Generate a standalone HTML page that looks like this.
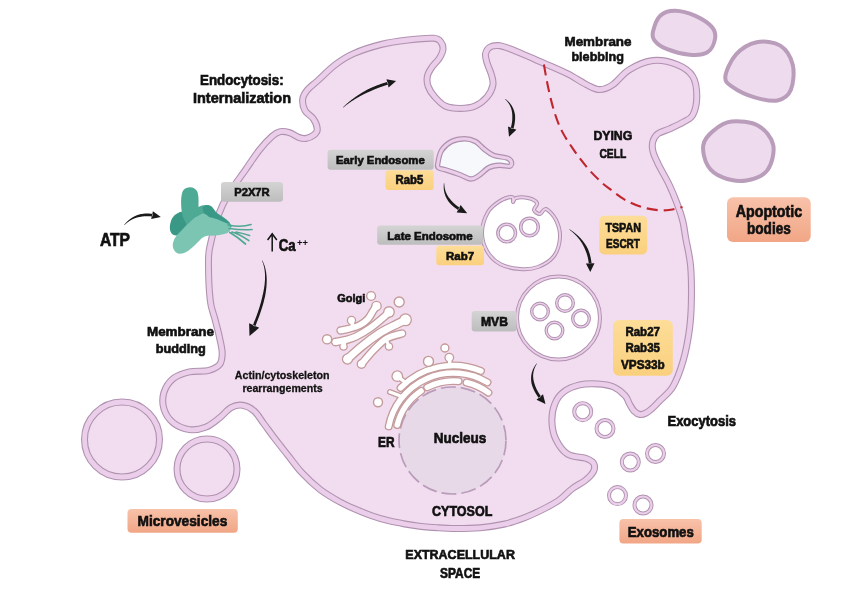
<!DOCTYPE html>
<html><head><meta charset="utf-8"><style>html,body{margin:0;padding:0;background:#fff;width:865px;height:605px;overflow:hidden;font-family:"Liberation Sans",sans-serif}svg{display:block;will-change:transform}</style></head><body>
<svg width="865" height="605" viewBox="0 0 865 605" font-family="Liberation Sans, sans-serif"><defs>
<linearGradient id="gg" x1="0" y1="0" x2="0" y2="1"><stop offset="0" stop-color="#d4d4d4"/><stop offset="1" stop-color="#bdbdbd"/></linearGradient>
<linearGradient id="yg" x1="0" y1="0" x2="0" y2="1"><stop offset="0" stop-color="#fddd98"/><stop offset="1" stop-color="#fad07e"/></linearGradient>
<linearGradient id="og" x1="0" y1="0" x2="0" y2="1"><stop offset="0" stop-color="#f8c2aa"/><stop offset="1" stop-color="#f1a686"/></linearGradient>
</defs><path d="M210.2,300.0 C209.1,290.1 208.4,268.6 208.5,259.0 C208.6,249.4 209.6,248.5 210.8,242.7 C212.0,236.9 213.6,230.2 215.5,224.0 C217.4,217.8 219.7,211.4 222.4,205.6 C225.1,199.8 227.8,195.4 231.7,189.4 C235.5,183.4 240.9,176.4 245.5,169.8 C250.1,163.2 254.9,155.6 259.4,150.0 C263.8,144.4 268.7,139.3 272.2,136.2 C275.7,133.1 277.4,132.2 280.3,131.6 C283.2,131.0 286.4,131.7 289.5,132.7 C292.6,133.7 296.1,136.4 298.8,137.4 C301.5,138.4 303.2,138.9 305.7,138.5 C308.2,138.1 311.9,136.5 313.8,135.0 C315.7,133.5 317.4,132.0 317.3,129.3 C317.2,126.6 315.6,122.1 313.5,119.0 C311.4,115.9 306.8,113.8 305.0,110.5 C303.2,107.2 302.3,102.4 302.7,99.0 C303.1,95.6 304.9,93.0 307.3,90.0 C309.7,87.0 312.6,85.2 317.3,81.0 C322.0,76.8 329.4,69.1 335.5,64.5 C341.6,59.9 346.0,56.9 353.6,53.6 C361.2,50.3 371.9,46.8 381.0,44.5 C390.1,42.2 399.3,41.0 408.0,40.0 C416.7,39.0 427.9,37.9 433.4,38.2 C438.9,38.5 439.2,40.0 440.8,41.9 C442.4,43.8 443.2,46.6 443.0,49.3 C442.8,52.0 441.2,55.3 439.3,58.3 C437.4,61.3 433.9,64.2 431.9,67.2 C429.9,70.2 428.0,72.9 427.4,76.1 C426.8,79.3 426.9,83.0 428.2,86.5 C429.4,90.0 432.0,93.8 434.9,97.0 C437.8,100.2 441.1,104.1 445.3,106.0 C449.5,107.9 455.2,108.4 460.2,108.4 C465.2,108.4 470.6,107.9 475.1,106.0 C479.6,104.1 484.0,100.5 487.0,97.0 C490.0,93.5 492.2,88.7 492.9,85.0 C493.6,81.3 492.4,78.3 491.4,74.6 C490.4,70.9 488.0,66.2 487.0,62.7 C486.0,59.2 485.0,56.4 485.5,53.8 C486.0,51.2 487.8,48.5 490.0,47.1 C492.2,45.7 495.7,45.4 498.9,45.6 C502.1,45.9 501.8,45.7 509.3,48.6 C516.8,51.5 534.0,59.0 543.8,63.2 C553.5,67.4 560.7,70.3 567.8,73.9 C574.9,77.5 581.1,82.0 586.4,84.6 C591.7,87.2 595.3,89.6 599.7,89.6 C604.1,89.6 608.1,87.9 613.0,84.6 C617.9,81.3 622.4,73.9 629.0,69.9 C635.6,65.9 644.9,61.5 652.9,60.6 C660.9,59.7 670.1,61.9 676.8,64.6 C683.4,67.2 689.5,71.2 692.8,76.5 C696.1,81.8 696.8,90.1 696.8,96.5 C696.8,102.9 695.0,110.8 692.8,115.0 C690.6,119.2 687.5,119.6 683.6,121.9 C679.8,124.2 674.0,126.8 669.7,128.8 C665.4,130.8 660.6,131.7 657.8,133.8 C655.0,136.0 653.6,138.7 652.8,141.7 C652.0,144.7 652.0,147.7 653.0,151.7 C654.0,155.7 656.2,160.0 659.0,165.6 C661.8,171.2 666.5,179.1 669.5,185.4 C672.5,191.7 674.8,197.4 677.0,203.3 C679.2,209.2 681.3,215.3 682.8,221.1 C684.2,226.9 684.4,230.5 685.7,238.0 C687.0,245.5 689.7,255.6 690.6,266.0 C691.5,276.4 691.6,289.6 691.4,300.4 C691.2,311.1 690.7,320.5 689.3,330.5 C687.9,340.5 685.9,351.3 683.2,360.6 C680.5,369.9 677.0,379.7 673.0,386.5 C669.0,393.3 662.5,397.8 659.0,401.5 C655.5,405.2 654.2,406.6 652.0,408.5 C649.8,410.4 648.0,412.0 646.0,413.0 C644.0,414.0 642.0,414.8 640.0,414.5 C638.0,414.2 635.8,412.8 634.0,411.0 C632.2,409.2 631.0,406.5 629.5,404.0 C628.0,401.5 628.0,398.7 625.3,395.8 C622.6,392.9 618.0,388.9 613.4,386.9 C608.8,384.9 603.1,384.2 597.5,383.9 C591.9,383.6 585.3,383.6 579.7,384.9 C574.1,386.2 567.9,388.7 563.8,391.8 C559.7,394.9 556.9,398.7 554.9,403.7 C552.9,408.7 551.7,415.7 551.9,421.6 C552.1,427.6 553.2,433.9 555.9,439.4 C558.5,444.8 562.8,451.1 567.8,454.3 C572.8,457.5 581.3,456.8 585.6,458.3 C589.9,459.8 592.3,461.2 593.6,463.3 C594.9,465.4 594.9,468.4 593.6,471.2 C592.3,474.0 589.1,477.2 585.6,480.1 C582.1,483.0 576.8,485.3 572.5,488.5 C568.2,491.7 564.3,496.3 560.0,499.5 C555.7,502.7 552.3,504.5 546.5,507.5 C540.7,510.5 532.0,514.8 525.0,517.5 C518.0,520.2 512.3,522.3 504.8,524.0 C497.3,525.7 488.3,527.0 480.0,527.8 C471.7,528.5 462.2,528.5 455.0,528.5 C447.8,528.5 442.7,528.1 437.0,527.7 C431.3,527.4 426.4,527.0 421.0,526.4 C415.6,525.8 410.1,525.0 404.7,524.0 C399.3,523.0 393.9,522.0 388.5,520.7 C383.1,519.4 377.8,517.9 372.4,516.0 C367.0,514.1 361.4,511.8 356.0,509.5 C350.6,507.2 346.0,505.3 340.0,502.0 C334.0,498.7 326.4,494.4 320.0,489.5 C313.6,484.6 307.2,478.5 301.8,472.7 C296.4,466.9 291.9,460.2 287.3,454.5 C282.8,448.8 278.4,443.3 274.5,438.2 C270.6,433.1 267.4,428.5 264.0,424.0 C260.6,419.5 257.8,414.1 254.2,411.0 C250.6,407.9 246.5,405.9 242.6,405.3 C238.7,404.7 234.9,405.5 231.0,407.6 C227.1,409.7 223.7,414.7 219.4,418.0 C215.2,421.3 210.5,425.4 205.5,427.3 C200.5,429.2 194.8,430.4 189.4,429.6 C184.0,428.8 177.3,426.2 173.1,422.7 C168.8,419.2 165.4,413.8 163.9,408.8 C162.4,403.8 162.4,397.6 163.9,392.6 C165.4,387.6 168.8,382.2 173.1,378.7 C177.3,375.2 183.6,373.1 189.4,371.8 C195.2,370.5 202.9,371.8 207.9,370.6 C212.9,369.4 217.0,367.7 219.4,364.8 C221.8,361.9 222.2,357.8 222.2,353.2 C222.2,348.6 220.6,342.8 219.4,337.0 C218.2,331.2 216.3,324.7 214.8,318.5 C213.3,312.3 211.2,309.9 210.2,300.0Z" fill="#f1ddef" stroke="#b092b0" stroke-width="7.0" stroke-linejoin="round"/><path d="M210.2,300.0 C209.1,290.1 208.4,268.6 208.5,259.0 C208.6,249.4 209.6,248.5 210.8,242.7 C212.0,236.9 213.6,230.2 215.5,224.0 C217.4,217.8 219.7,211.4 222.4,205.6 C225.1,199.8 227.8,195.4 231.7,189.4 C235.5,183.4 240.9,176.4 245.5,169.8 C250.1,163.2 254.9,155.6 259.4,150.0 C263.8,144.4 268.7,139.3 272.2,136.2 C275.7,133.1 277.4,132.2 280.3,131.6 C283.2,131.0 286.4,131.7 289.5,132.7 C292.6,133.7 296.1,136.4 298.8,137.4 C301.5,138.4 303.2,138.9 305.7,138.5 C308.2,138.1 311.9,136.5 313.8,135.0 C315.7,133.5 317.4,132.0 317.3,129.3 C317.2,126.6 315.6,122.1 313.5,119.0 C311.4,115.9 306.8,113.8 305.0,110.5 C303.2,107.2 302.3,102.4 302.7,99.0 C303.1,95.6 304.9,93.0 307.3,90.0 C309.7,87.0 312.6,85.2 317.3,81.0 C322.0,76.8 329.4,69.1 335.5,64.5 C341.6,59.9 346.0,56.9 353.6,53.6 C361.2,50.3 371.9,46.8 381.0,44.5 C390.1,42.2 399.3,41.0 408.0,40.0 C416.7,39.0 427.9,37.9 433.4,38.2 C438.9,38.5 439.2,40.0 440.8,41.9 C442.4,43.8 443.2,46.6 443.0,49.3 C442.8,52.0 441.2,55.3 439.3,58.3 C437.4,61.3 433.9,64.2 431.9,67.2 C429.9,70.2 428.0,72.9 427.4,76.1 C426.8,79.3 426.9,83.0 428.2,86.5 C429.4,90.0 432.0,93.8 434.9,97.0 C437.8,100.2 441.1,104.1 445.3,106.0 C449.5,107.9 455.2,108.4 460.2,108.4 C465.2,108.4 470.6,107.9 475.1,106.0 C479.6,104.1 484.0,100.5 487.0,97.0 C490.0,93.5 492.2,88.7 492.9,85.0 C493.6,81.3 492.4,78.3 491.4,74.6 C490.4,70.9 488.0,66.2 487.0,62.7 C486.0,59.2 485.0,56.4 485.5,53.8 C486.0,51.2 487.8,48.5 490.0,47.1 C492.2,45.7 495.7,45.4 498.9,45.6 C502.1,45.9 501.8,45.7 509.3,48.6 C516.8,51.5 534.0,59.0 543.8,63.2 C553.5,67.4 560.7,70.3 567.8,73.9 C574.9,77.5 581.1,82.0 586.4,84.6 C591.7,87.2 595.3,89.6 599.7,89.6 C604.1,89.6 608.1,87.9 613.0,84.6 C617.9,81.3 622.4,73.9 629.0,69.9 C635.6,65.9 644.9,61.5 652.9,60.6 C660.9,59.7 670.1,61.9 676.8,64.6 C683.4,67.2 689.5,71.2 692.8,76.5 C696.1,81.8 696.8,90.1 696.8,96.5 C696.8,102.9 695.0,110.8 692.8,115.0 C690.6,119.2 687.5,119.6 683.6,121.9 C679.8,124.2 674.0,126.8 669.7,128.8 C665.4,130.8 660.6,131.7 657.8,133.8 C655.0,136.0 653.6,138.7 652.8,141.7 C652.0,144.7 652.0,147.7 653.0,151.7 C654.0,155.7 656.2,160.0 659.0,165.6 C661.8,171.2 666.5,179.1 669.5,185.4 C672.5,191.7 674.8,197.4 677.0,203.3 C679.2,209.2 681.3,215.3 682.8,221.1 C684.2,226.9 684.4,230.5 685.7,238.0 C687.0,245.5 689.7,255.6 690.6,266.0 C691.5,276.4 691.6,289.6 691.4,300.4 C691.2,311.1 690.7,320.5 689.3,330.5 C687.9,340.5 685.9,351.3 683.2,360.6 C680.5,369.9 677.0,379.7 673.0,386.5 C669.0,393.3 662.5,397.8 659.0,401.5 C655.5,405.2 654.2,406.6 652.0,408.5 C649.8,410.4 648.0,412.0 646.0,413.0 C644.0,414.0 642.0,414.8 640.0,414.5 C638.0,414.2 635.8,412.8 634.0,411.0 C632.2,409.2 631.0,406.5 629.5,404.0 C628.0,401.5 628.0,398.7 625.3,395.8 C622.6,392.9 618.0,388.9 613.4,386.9 C608.8,384.9 603.1,384.2 597.5,383.9 C591.9,383.6 585.3,383.6 579.7,384.9 C574.1,386.2 567.9,388.7 563.8,391.8 C559.7,394.9 556.9,398.7 554.9,403.7 C552.9,408.7 551.7,415.7 551.9,421.6 C552.1,427.6 553.2,433.9 555.9,439.4 C558.5,444.8 562.8,451.1 567.8,454.3 C572.8,457.5 581.3,456.8 585.6,458.3 C589.9,459.8 592.3,461.2 593.6,463.3 C594.9,465.4 594.9,468.4 593.6,471.2 C592.3,474.0 589.1,477.2 585.6,480.1 C582.1,483.0 576.8,485.3 572.5,488.5 C568.2,491.7 564.3,496.3 560.0,499.5 C555.7,502.7 552.3,504.5 546.5,507.5 C540.7,510.5 532.0,514.8 525.0,517.5 C518.0,520.2 512.3,522.3 504.8,524.0 C497.3,525.7 488.3,527.0 480.0,527.8 C471.7,528.5 462.2,528.5 455.0,528.5 C447.8,528.5 442.7,528.1 437.0,527.7 C431.3,527.4 426.4,527.0 421.0,526.4 C415.6,525.8 410.1,525.0 404.7,524.0 C399.3,523.0 393.9,522.0 388.5,520.7 C383.1,519.4 377.8,517.9 372.4,516.0 C367.0,514.1 361.4,511.8 356.0,509.5 C350.6,507.2 346.0,505.3 340.0,502.0 C334.0,498.7 326.4,494.4 320.0,489.5 C313.6,484.6 307.2,478.5 301.8,472.7 C296.4,466.9 291.9,460.2 287.3,454.5 C282.8,448.8 278.4,443.3 274.5,438.2 C270.6,433.1 267.4,428.5 264.0,424.0 C260.6,419.5 257.8,414.1 254.2,411.0 C250.6,407.9 246.5,405.9 242.6,405.3 C238.7,404.7 234.9,405.5 231.0,407.6 C227.1,409.7 223.7,414.7 219.4,418.0 C215.2,421.3 210.5,425.4 205.5,427.3 C200.5,429.2 194.8,430.4 189.4,429.6 C184.0,428.8 177.3,426.2 173.1,422.7 C168.8,419.2 165.4,413.8 163.9,408.8 C162.4,403.8 162.4,397.6 163.9,392.6 C165.4,387.6 168.8,382.2 173.1,378.7 C177.3,375.2 183.6,373.1 189.4,371.8 C195.2,370.5 202.9,371.8 207.9,370.6 C212.9,369.4 217.0,367.7 219.4,364.8 C221.8,361.9 222.2,357.8 222.2,353.2 C222.2,348.6 220.6,342.8 219.4,337.0 C218.2,331.2 216.3,324.7 214.8,318.5 C213.3,312.3 211.2,309.9 210.2,300.0Z" fill="none" stroke="#ebcfea" stroke-width="4.8" stroke-linejoin="round"/><path d="M84.5,439.5 a37.5,37.5 0 1,0 75.0,0 a37.5,37.5 0 1,0 -75.0,0Z" fill="#f1ddef" stroke="#b092b0" stroke-width="7.0" stroke-linejoin="round"/><path d="M84.5,439.5 a37.5,37.5 0 1,0 75.0,0 a37.5,37.5 0 1,0 -75.0,0Z" fill="none" stroke="#ebcfea" stroke-width="4.8" stroke-linejoin="round"/><path d="M177.0,469.0 a30.0,30.0 0 1,0 60.0,0 a30.0,30.0 0 1,0 -60.0,0Z" fill="#f1ddef" stroke="#b092b0" stroke-width="7.0" stroke-linejoin="round"/><path d="M177.0,469.0 a30.0,30.0 0 1,0 60.0,0 a30.0,30.0 0 1,0 -60.0,0Z" fill="none" stroke="#ebcfea" stroke-width="4.8" stroke-linejoin="round"/><path d="M653.0,31.5 C654.0,27.4 656.7,18.9 660.5,15.5 C664.2,12.0 669.4,10.6 675.2,10.7 C681.1,10.8 689.3,13.1 695.4,15.8 C701.6,18.6 708.8,23.3 712.0,27.1 C715.3,31.0 715.8,34.8 715.0,39.0 C714.3,43.2 711.6,49.7 707.4,52.3 C703.2,54.9 696.5,55.3 689.7,54.7 C682.9,54.1 672.3,51.3 666.5,48.9 C660.6,46.6 656.8,43.3 654.5,40.4 C652.3,37.5 652.0,35.7 653.0,31.5Z" fill="#eedcee" stroke="#b99dbb" stroke-width="4"/><path d="M725.3,76.8 C725.8,71.4 730.7,60.5 735.9,54.7 C741.1,48.9 749.2,43.8 756.7,42.3 C764.1,40.8 774.3,41.8 780.3,45.6 C786.4,49.4 791.0,57.6 792.8,65.0 C794.5,72.4 793.3,84.1 790.8,90.0 C788.2,95.9 783.5,99.3 777.4,100.5 C771.2,101.7 761.2,99.3 753.8,97.1 C746.3,94.8 737.5,90.5 732.8,87.1 C728.0,83.7 724.8,82.2 725.3,76.8Z" fill="#eedcee" stroke="#b99dbb" stroke-width="4"/><path d="M703.3,145.1 C704.3,139.2 709.0,134.3 713.8,130.4 C718.5,126.4 724.1,122.3 731.5,121.5 C738.9,120.7 751.2,121.8 758.2,125.7 C765.1,129.6 771.7,137.6 773.2,145.0 C774.7,152.5 771.8,164.4 767.3,170.4 C762.8,176.3 753.8,179.3 746.3,180.5 C738.9,181.7 729.1,179.9 722.7,177.4 C716.3,175.0 711.0,171.2 707.8,165.8 C704.5,160.4 702.3,151.0 703.3,145.1Z" fill="#eedcee" stroke="#b99dbb" stroke-width="4"/><path d="M543.9,64.5 C544.6,68.5 546.7,80.8 548.4,88.5 C550.1,96.2 551.8,103.7 554.0,110.8 C556.2,117.9 558.6,124.6 561.8,130.9 C565.0,137.2 568.9,142.8 573.0,148.8 C577.1,154.8 581.9,161.3 586.4,166.7 C590.9,172.1 596.0,177.2 600.0,181.0 C604.0,184.8 606.2,186.3 610.4,189.4 C614.6,192.5 619.8,196.9 625.0,199.8 C630.2,202.7 636.1,205.3 641.6,207.0 C647.1,208.7 653.4,209.8 658.3,210.2 C663.2,210.6 666.8,210.2 670.8,209.7 C674.8,209.2 680.5,207.4 682.5,207.0" fill="none" stroke="#c0262d" stroke-width="2.1" stroke-dasharray="11,6"/><path d="M437.8,163.5 C438.3,160.6 439.2,154.2 441.5,150.5 C443.8,146.8 447.6,143.5 451.5,141.5 C455.4,139.5 460.7,138.7 464.7,138.7 C468.7,138.7 472.3,139.8 475.5,141.5 C478.7,143.2 481.0,146.7 484.0,149.0 C487.0,151.3 489.6,153.8 493.5,155.3 C497.4,156.8 504.5,157.0 507.5,158.2 C510.5,159.4 511.2,161.0 511.5,162.3 C511.8,163.7 511.5,165.8 509.5,166.3 C507.5,166.8 502.8,165.1 499.4,165.3 C496.0,165.5 492.5,165.8 489.0,167.5 C485.5,169.2 481.6,173.9 478.5,175.8 C475.4,177.7 473.7,179.2 470.5,179.0 C467.3,178.8 463.7,176.0 459.5,174.5 C455.3,173.0 449.0,170.9 445.5,169.8 C442.0,168.7 439.8,168.9 438.5,167.8 C437.2,166.8 437.3,166.4 437.8,163.5Z" fill="#f6f8fb" stroke="#b092b0" stroke-width="5.4" stroke-linejoin="round"/><path d="M437.8,163.5 C438.3,160.6 439.2,154.2 441.5,150.5 C443.8,146.8 447.6,143.5 451.5,141.5 C455.4,139.5 460.7,138.7 464.7,138.7 C468.7,138.7 472.3,139.8 475.5,141.5 C478.7,143.2 481.0,146.7 484.0,149.0 C487.0,151.3 489.6,153.8 493.5,155.3 C497.4,156.8 504.5,157.0 507.5,158.2 C510.5,159.4 511.2,161.0 511.5,162.3 C511.8,163.7 511.5,165.8 509.5,166.3 C507.5,166.8 502.8,165.1 499.4,165.3 C496.0,165.5 492.5,165.8 489.0,167.5 C485.5,169.2 481.6,173.9 478.5,175.8 C475.4,177.7 473.7,179.2 470.5,179.0 C467.3,178.8 463.7,176.0 459.5,174.5 C455.3,173.0 449.0,170.9 445.5,169.8 C442.0,168.7 439.8,168.9 438.5,167.8 C437.2,166.8 437.3,166.4 437.8,163.5Z" fill="none" stroke="#ebcfea" stroke-width="3.0" stroke-linejoin="round"/><path d="M482.0,232.0 C482.2,225.5 485.0,217.2 488.0,212.0 C491.0,206.8 496.0,203.5 500.0,201.0 C504.0,198.5 509.8,196.8 512.0,197.0 C514.2,197.2 512.3,201.8 513.0,202.0 C513.7,202.2 513.5,198.7 516.0,198.0 C518.5,197.3 524.5,197.2 528.0,198.0 C531.5,198.8 536.0,201.0 537.0,203.0 C538.0,205.0 533.5,208.2 534.0,210.0 C534.5,211.8 538.0,214.2 540.0,214.0 C542.0,213.8 543.3,208.0 546.0,209.0 C548.7,210.0 553.7,215.3 556.0,220.0 C558.3,224.7 560.3,231.0 560.0,237.0 C559.7,243.0 557.7,251.0 554.0,256.0 C550.3,261.0 543.7,264.8 538.0,267.0 C532.3,269.2 526.3,269.5 520.0,269.0 C513.7,268.5 505.5,267.0 500.0,264.0 C494.5,261.0 490.0,256.3 487.0,251.0 C484.0,245.7 481.8,238.5 482.0,232.0Z" fill="#ffffff" stroke="#b092b0" stroke-width="4.0" stroke-linejoin="round"/><path d="M482.0,232.0 C482.2,225.5 485.0,217.2 488.0,212.0 C491.0,206.8 496.0,203.5 500.0,201.0 C504.0,198.5 509.8,196.8 512.0,197.0 C514.2,197.2 512.3,201.8 513.0,202.0 C513.7,202.2 513.5,198.7 516.0,198.0 C518.5,197.3 524.5,197.2 528.0,198.0 C531.5,198.8 536.0,201.0 537.0,203.0 C538.0,205.0 533.5,208.2 534.0,210.0 C534.5,211.8 538.0,214.2 540.0,214.0 C542.0,213.8 543.3,208.0 546.0,209.0 C548.7,210.0 553.7,215.3 556.0,220.0 C558.3,224.7 560.3,231.0 560.0,237.0 C559.7,243.0 557.7,251.0 554.0,256.0 C550.3,261.0 543.7,264.8 538.0,267.0 C532.3,269.2 526.3,269.5 520.0,269.0 C513.7,268.5 505.5,267.0 500.0,264.0 C494.5,261.0 490.0,256.3 487.0,251.0 C484.0,245.7 481.8,238.5 482.0,232.0Z" fill="none" stroke="#ebcfea" stroke-width="2.0" stroke-linejoin="round"/><circle cx="506.7" cy="233.0" r="8.8" fill="#fff" stroke="#b092b0" stroke-width="3.6"/><circle cx="506.7" cy="233.0" r="8.8" fill="none" stroke="#ebcfea" stroke-width="1.6"/><circle cx="529.5" cy="227.0" r="8.8" fill="#fff" stroke="#b092b0" stroke-width="3.6"/><circle cx="529.5" cy="227.0" r="8.8" fill="none" stroke="#ebcfea" stroke-width="1.6"/><circle cx="558.5" cy="318" r="41.5" fill="#fff" stroke="#b092b0" stroke-width="4"/><circle cx="558.5" cy="318" r="41.5" fill="none" stroke="#ebcfea" stroke-width="2"/><circle cx="540.0" cy="311.5" r="8.3" fill="#fff" stroke="#b092b0" stroke-width="3.4"/><circle cx="540.0" cy="311.5" r="8.3" fill="none" stroke="#ebcfea" stroke-width="1.4"/><circle cx="565.0" cy="303.0" r="8.3" fill="#fff" stroke="#b092b0" stroke-width="3.4"/><circle cx="565.0" cy="303.0" r="8.3" fill="none" stroke="#ebcfea" stroke-width="1.4"/><circle cx="581.0" cy="318.6" r="8.3" fill="#fff" stroke="#b092b0" stroke-width="3.4"/><circle cx="581.0" cy="318.6" r="8.3" fill="none" stroke="#ebcfea" stroke-width="1.4"/><circle cx="554.5" cy="330.5" r="8.3" fill="#fff" stroke="#b092b0" stroke-width="3.4"/><circle cx="554.5" cy="330.5" r="8.3" fill="none" stroke="#ebcfea" stroke-width="1.4"/><circle cx="582.7" cy="411.7" r="8.5" fill="#fff" stroke="#b092b0" stroke-width="4.0"/><circle cx="582.7" cy="411.7" r="8.5" fill="none" stroke="#ebcfea" stroke-width="2.2"/><circle cx="605.0" cy="428.5" r="8.5" fill="#fff" stroke="#b092b0" stroke-width="4.0"/><circle cx="605.0" cy="428.5" r="8.5" fill="none" stroke="#ebcfea" stroke-width="2.2"/><circle cx="630.3" cy="462.0" r="8.5" fill="#fff" stroke="#b092b0" stroke-width="4.0"/><circle cx="630.3" cy="462.0" r="8.5" fill="none" stroke="#ebcfea" stroke-width="2.2"/><circle cx="655.5" cy="453.5" r="8.5" fill="#fff" stroke="#b092b0" stroke-width="4.0"/><circle cx="655.5" cy="453.5" r="8.5" fill="none" stroke="#ebcfea" stroke-width="2.2"/><circle cx="617.5" cy="495.6" r="8.5" fill="#fff" stroke="#b092b0" stroke-width="4.0"/><circle cx="617.5" cy="495.6" r="8.5" fill="none" stroke="#ebcfea" stroke-width="2.2"/><circle cx="643.0" cy="505.0" r="8.5" fill="#fff" stroke="#b092b0" stroke-width="4.0"/><circle cx="643.0" cy="505.0" r="8.5" fill="none" stroke="#ebcfea" stroke-width="2.2"/><circle cx="452.5" cy="440.5" r="53.5" fill="#e8d9e8" stroke="#b99cb9" stroke-width="1.7" stroke-dasharray="15,5"/><path d="M397.2,425.0 A58.0,58.0 0 0,1 421.1,390.9" fill="none" stroke="#c49a9a" stroke-width="8" stroke-linecap="round"/><path d="M427.2,387.3 A58.0,58.0 0 0,1 458.6,381.2" fill="none" stroke="#c49a9a" stroke-width="8" stroke-linecap="round"/><path d="M466.5,382.5 A58.0,58.0 0 0,1 488.4,392.7" fill="none" stroke="#c49a9a" stroke-width="8" stroke-linecap="round"/><path d="M388.7,426.4 A66.0,66.0 0 0,1 487.5,382.4" fill="none" stroke="#c49a9a" stroke-width="8" stroke-linecap="round"/><path d="M400.6,387.9 A73.5,73.5 0 0,1 481.0,370.9" fill="none" stroke="#c49a9a" stroke-width="8" stroke-linecap="round"/><circle cx="397.3" cy="376.2" r="5.9" fill="#c49a9a"/><circle cx="449.3" cy="357.6" r="4.9" fill="#c49a9a"/><path d="M397.3,376.2 L406.0,383.0" stroke="#c49a9a" stroke-width="6" stroke-linecap="round"/><path d="M449.3,357.6 L450.0,365.0" stroke="#c49a9a" stroke-width="6" stroke-linecap="round"/><path d="M403.0,397.0 L390.0,392.0" stroke="#c49a9a" stroke-width="6" stroke-linecap="round"/><path d="M397.2,425.0 A58.0,58.0 0 0,1 421.1,390.9" fill="none" stroke="#fff" stroke-width="5.4" stroke-linecap="round"/><path d="M427.2,387.3 A58.0,58.0 0 0,1 458.6,381.2" fill="none" stroke="#fff" stroke-width="5.4" stroke-linecap="round"/><path d="M466.5,382.5 A58.0,58.0 0 0,1 488.4,392.7" fill="none" stroke="#fff" stroke-width="5.4" stroke-linecap="round"/><path d="M388.7,426.4 A66.0,66.0 0 0,1 487.5,382.4" fill="none" stroke="#fff" stroke-width="5.4" stroke-linecap="round"/><path d="M400.6,387.9 A73.5,73.5 0 0,1 481.0,370.9" fill="none" stroke="#fff" stroke-width="5.4" stroke-linecap="round"/><circle cx="397.3" cy="376.2" r="4.6" fill="#fff"/><circle cx="449.3" cy="357.6" r="3.6" fill="#fff"/><path d="M397.3,376.2 L406.0,383.0" stroke="#fff" stroke-width="3.4" stroke-linecap="round"/><path d="M449.3,357.6 L450.0,365.0" stroke="#fff" stroke-width="3.4" stroke-linecap="round"/><path d="M403.0,397.0 L390.0,392.0" stroke="#fff" stroke-width="3.4" stroke-linecap="round"/><circle cx="444.9" cy="348.0" r="4.0" fill="#fff" stroke="#c49a9a" stroke-width="1.4"/><circle cx="428.5" cy="361.4" r="5.0" fill="#fff" stroke="#c49a9a" stroke-width="1.4"/><circle cx="378.0" cy="402.2" r="4.5" fill="#fff" stroke="#c49a9a" stroke-width="1.4"/><path d="M340.5,330.5 C342.1,330.2 346.8,329.4 350.0,328.5 C353.2,327.6 357.0,326.6 360.0,325.0 C363.0,323.4 365.8,321.3 368.0,319.0 C370.2,316.7 371.6,313.2 373.0,311.0 C374.4,308.8 375.9,306.8 376.5,306.0" fill="none" stroke="#c49a9a" stroke-width="8.4" stroke-linecap="round"/><path d="M335.5,342.0 C337.2,341.7 342.6,340.9 346.0,340.0 C349.4,339.1 351.8,338.6 356.0,336.5 C360.2,334.4 366.3,330.8 371.0,327.5 C375.7,324.2 381.0,319.6 384.0,317.0 C387.0,314.4 388.2,312.8 389.0,312.0" fill="none" stroke="#c49a9a" stroke-width="8.6" stroke-linecap="round"/><path d="M347.5,359.0 C349.9,356.9 356.4,350.7 361.7,346.4 C367.0,342.1 373.6,337.1 379.5,333.3 C385.4,329.5 393.1,326.1 397.4,323.8 C401.7,321.6 404.1,320.5 405.5,319.8" fill="none" stroke="#c49a9a" stroke-width="9.6" stroke-linecap="round"/><path d="M361.5,364.0 C363.5,361.7 369.4,354.2 373.6,350.0 C377.8,345.8 382.0,341.2 386.7,338.5 C391.4,335.8 399.4,334.3 402.0,333.5" fill="none" stroke="#c49a9a" stroke-width="8.6" stroke-linecap="round"/><circle cx="376.5" cy="306.0" r="5.3" fill="#c49a9a"/><circle cx="389.0" cy="312.0" r="5.9" fill="#c49a9a"/><circle cx="405.5" cy="319.8" r="6.5" fill="#c49a9a"/><circle cx="347.5" cy="359.0" r="5.7" fill="#c49a9a"/><circle cx="361.5" cy="364.0" r="4.9" fill="#c49a9a"/><circle cx="351.5" cy="320.5" r="4.7" fill="#c49a9a"/><circle cx="343.5" cy="346.5" r="4.3" fill="#c49a9a"/><circle cx="389.0" cy="346.5" r="4.3" fill="#c49a9a"/><circle cx="335.5" cy="342.0" r="4.3" fill="#c49a9a"/><path d="M351.5,320.5 L353.0,327.0" stroke="#c49a9a" stroke-width="6.2" stroke-linecap="round"/><path d="M343.5,346.5 L345.0,340.5" stroke="#c49a9a" stroke-width="5.8" stroke-linecap="round"/><path d="M389.0,346.5 L386.0,339.0" stroke="#c49a9a" stroke-width="5.8" stroke-linecap="round"/><path d="M340.5,330.5 C342.1,330.2 346.8,329.4 350.0,328.5 C353.2,327.6 357.0,326.6 360.0,325.0 C363.0,323.4 365.8,321.3 368.0,319.0 C370.2,316.7 371.6,313.2 373.0,311.0 C374.4,308.8 375.9,306.8 376.5,306.0" fill="none" stroke="#fff" stroke-width="5.8" stroke-linecap="round"/><path d="M335.5,342.0 C337.2,341.7 342.6,340.9 346.0,340.0 C349.4,339.1 351.8,338.6 356.0,336.5 C360.2,334.4 366.3,330.8 371.0,327.5 C375.7,324.2 381.0,319.6 384.0,317.0 C387.0,314.4 388.2,312.8 389.0,312.0" fill="none" stroke="#fff" stroke-width="6.0" stroke-linecap="round"/><path d="M347.5,359.0 C349.9,356.9 356.4,350.7 361.7,346.4 C367.0,342.1 373.6,337.1 379.5,333.3 C385.4,329.5 393.1,326.1 397.4,323.8 C401.7,321.6 404.1,320.5 405.5,319.8" fill="none" stroke="#fff" stroke-width="7.0" stroke-linecap="round"/><path d="M361.5,364.0 C363.5,361.7 369.4,354.2 373.6,350.0 C377.8,345.8 382.0,341.2 386.7,338.5 C391.4,335.8 399.4,334.3 402.0,333.5" fill="none" stroke="#fff" stroke-width="6.0" stroke-linecap="round"/><circle cx="376.5" cy="306.0" r="4.0" fill="#fff"/><circle cx="389.0" cy="312.0" r="4.6" fill="#fff"/><circle cx="405.5" cy="319.8" r="5.2" fill="#fff"/><circle cx="347.5" cy="359.0" r="4.4" fill="#fff"/><circle cx="361.5" cy="364.0" r="3.6" fill="#fff"/><circle cx="351.5" cy="320.5" r="3.4" fill="#fff"/><circle cx="343.5" cy="346.5" r="3.0" fill="#fff"/><circle cx="389.0" cy="346.5" r="3.0" fill="#fff"/><circle cx="335.5" cy="342.0" r="3.0" fill="#fff"/><path d="M351.5,320.5 L353.0,327.0" stroke="#fff" stroke-width="3.6" stroke-linecap="round"/><path d="M343.5,346.5 L345.0,340.5" stroke="#fff" stroke-width="3.2" stroke-linecap="round"/><path d="M389.0,346.5 L386.0,339.0" stroke="#fff" stroke-width="3.2" stroke-linecap="round"/><circle cx="371.1" cy="296.0" r="4.4" fill="#fff" stroke="#c49a9a" stroke-width="1.4"/><circle cx="399.2" cy="302.0" r="5.0" fill="#fff" stroke="#c49a9a" stroke-width="1.4"/><circle cx="327.1" cy="339.3" r="4.6" fill="#fff" stroke="#c49a9a" stroke-width="1.4"/><path d="M191,214 C185,209 174,212 171,221 C168,230 171,236 177,235.5 C184,235 190,227 193,220 Z" fill="#3a9986"/><path d="M182.5,216 C180.5,206 180.5,194 183.5,190 C187,186 195,186 197.5,192 C199,197 198.5,203 198.5,207 C202,205 206,204 210,206 C213,207 215,211 218,214 C224,217 229,221 232,226 L228,232 L190,232 Z" fill="#4ea995"/><path d="M202.5,208 C205,204 210,204 212.5,207.5 L215,212 C220,215 226,219 230,223 L214,222 L204,214 Z" fill="#3a9986"/><path d="M178,253.5 C174,252 172,247 173,243 C174,238 177,235 180,232 C184,228 186,225 189,223 C192,220 195,217 198,216 C201,214 203,213 205,214 C207,215 208,216 209,217 C214,218 220,220 227,223.6 C229,225 231,227 230.5,229.5 C229.5,231.5 228,233 226,233.5 C222,235 214,236 209,235.5 C204,236 202,238 200,240 C196,244 192,248 188,251 C185,253 181,254.5 178,253.5 Z" fill="#7cc5b3"/><path d="M228,225 C238,227 245,226.5 251,224.5 M229,228.5 C240,230 246,230 252,229.5 M236,232 C241,233 245,234 249.6,235.5 M232,232 C239,234 245,238 248.8,240.5 M229.8,232.5 C236,236 241,240 245.5,244" stroke="#4fa993" stroke-width="1.7" fill="none" stroke-linecap="round"/><rect x="327.6" y="149.7" width="106.1" height="20.1" rx="3.0" fill="url(#gg)"/><rect x="385.5" y="170.2" width="48.2" height="19.8" rx="3.0" fill="url(#yg)"/><rect x="221.0" y="182.0" width="62.0" height="19.7" rx="3.0" fill="url(#gg)"/><rect x="377.2" y="225.4" width="105.8" height="19.4" rx="3.0" fill="url(#gg)"/><rect x="436.3" y="245.8" width="47.7" height="19.4" rx="3.0" fill="url(#yg)"/><rect x="599.3" y="215.8" width="47.9" height="38.6" rx="5.0" fill="url(#yg)"/><rect x="727.0" y="197.2" width="83.7" height="44.7" rx="6.0" fill="url(#og)"/><rect x="471.7" y="311.0" width="44.8" height="20.6" rx="3.0" fill="url(#gg)"/><rect x="613.0" y="320.0" width="59.8" height="55.8" rx="6.0" fill="url(#yg)"/><rect x="127.5" y="509.0" width="110.3" height="23.7" rx="4.0" fill="url(#og)"/><rect x="619.4" y="519.0" width="82.3" height="24.4" rx="4.0" fill="url(#og)"/><path d="M124.4,225.1 L124.6,225.0 L124.7,224.9 L124.9,224.7 L125.0,224.6 L125.1,224.4 L125.3,224.3 L125.4,224.2 L125.6,224.1 L125.7,223.9 L125.9,223.8 L126.0,223.7 L126.1,223.5 L126.3,223.4 L126.4,223.3 L126.6,223.2 L126.7,223.0 L126.9,222.9 L127.0,222.8 L127.2,222.7 L127.3,222.6 L127.5,222.5 L127.6,222.3 L127.8,222.2 L127.9,222.1 L128.0,222.0 L128.2,221.9 L128.3,221.8 L128.5,221.7 L128.6,221.6 L128.8,221.5 L128.9,221.4 L129.1,221.2 L129.3,221.1 L129.4,221.0 L129.6,220.9 L129.7,220.8 L129.9,220.8 L130.0,220.7 L130.2,220.6 L130.3,220.5 L130.5,220.4 L130.6,220.3 L130.8,220.2 L130.9,220.1 L131.1,220.0 L131.3,219.9 L131.4,219.8 L131.6,219.8 L131.7,219.7 L131.9,219.6 L132.1,219.5 L132.2,219.4 L132.4,219.3 L132.5,219.3 L132.7,219.2 L132.8,219.1 L133.0,219.0 L133.2,219.0 L133.3,218.9 L133.5,218.8 L133.7,218.7 L133.8,218.7 L134.0,218.6 L134.1,218.5 L134.3,218.5 L134.5,218.4 L134.6,218.3 L134.8,218.3 L135.0,218.2 L135.1,218.2 L135.3,218.1 L135.5,218.0 L135.6,218.0 L135.8,217.9 L136.0,217.9 L136.1,217.8 L136.3,217.8 L136.5,217.7 L136.6,217.7 L136.8,217.6 L137.0,217.6 L137.1,217.5 L137.3,217.5 L137.5,217.4 L137.7,217.4 L137.8,217.3 L138.0,217.3 L138.2,217.3 L138.4,217.2 L138.5,217.2 L138.7,217.1 L138.9,217.1 L139.0,217.1 L139.2,217.0 L139.4,217.0 L139.6,217.0 L139.7,216.9 L139.9,216.9 L140.1,216.9 L140.3,216.9 L140.5,216.8 L140.6,216.8 L140.8,216.8 L141.0,216.7 L141.2,216.7 L141.3,216.7 L141.5,216.6 L141.7,216.6 L141.9,216.6 L142.1,216.5 L142.2,216.5 L142.4,216.5 L142.6,216.5 L142.8,216.4 L143.0,216.4 L143.1,216.4 L143.3,216.4 L143.5,216.3 L143.7,216.3 L143.9,216.3 L144.1,216.3 L144.2,216.3 L144.4,216.3 L144.6,216.2 L144.8,216.2 L145.0,216.2 L145.2,216.2 L145.4,216.2 L145.6,216.2 L145.8,216.2 L145.9,216.2 L146.1,216.2 L146.3,216.2 L146.5,216.2 L146.7,216.2 L146.9,216.2 L147.1,216.2 L147.3,216.2 L147.5,216.2 L147.7,216.2 L147.9,216.2 L148.1,216.2 L148.3,216.2 L148.5,216.2 L148.7,216.2 L148.9,216.2 L149.1,216.2 L149.3,216.2 L149.5,216.2 L149.7,216.2 L149.9,216.3 L150.1,216.3 L150.3,216.3 L150.5,216.3 L150.7,216.3 L150.9,216.3 L151.1,216.4 L151.3,216.4 L151.5,216.4 L151.7,216.4 L151.9,216.5 L152.1,216.5 L152.3,216.5 L152.7,213.9 L152.5,213.9 L152.2,213.9 L152.0,213.9 L151.8,213.8 L151.6,213.8 L151.4,213.8 L151.1,213.8 L150.9,213.7 L150.7,213.7 L150.5,213.7 L150.3,213.7 L150.1,213.7 L149.8,213.7 L149.6,213.6 L149.4,213.6 L149.2,213.6 L149.0,213.6 L148.8,213.6 L148.6,213.6 L148.4,213.6 L148.1,213.6 L147.9,213.6 L147.7,213.6 L147.5,213.6 L147.3,213.6 L147.1,213.6 L146.9,213.6 L146.7,213.6 L146.5,213.6 L146.3,213.6 L146.1,213.6 L145.9,213.6 L145.7,213.6 L145.4,213.6 L145.2,213.6 L145.0,213.6 L144.8,213.6 L144.6,213.6 L144.4,213.7 L144.2,213.7 L144.0,213.7 L143.8,213.7 L143.6,213.7 L143.4,213.7 L143.2,213.8 L143.0,213.8 L142.8,213.8 L142.6,213.8 L142.4,213.9 L142.2,213.9 L142.0,213.9 L141.8,213.9 L141.7,214.0 L141.5,214.0 L141.3,214.0 L141.1,214.1 L140.9,214.1 L140.7,214.1 L140.5,214.2 L140.3,214.2 L140.1,214.2 L139.9,214.3 L139.7,214.3 L139.5,214.4 L139.4,214.5 L139.2,214.5 L139.0,214.6 L138.8,214.6 L138.6,214.7 L138.4,214.7 L138.2,214.8 L138.1,214.9 L137.9,214.9 L137.7,215.0 L137.5,215.1 L137.3,215.1 L137.2,215.2 L137.0,215.3 L136.8,215.3 L136.6,215.4 L136.4,215.5 L136.3,215.5 L136.1,215.6 L135.9,215.7 L135.7,215.8 L135.6,215.8 L135.4,215.9 L135.2,216.0 L135.1,216.1 L134.9,216.2 L134.7,216.2 L134.5,216.3 L134.4,216.4 L134.2,216.5 L134.0,216.6 L133.9,216.7 L133.7,216.8 L133.5,216.8 L133.4,216.9 L133.2,217.0 L133.0,217.1 L132.9,217.2 L132.7,217.3 L132.6,217.4 L132.4,217.5 L132.2,217.6 L132.1,217.7 L131.9,217.8 L131.8,217.9 L131.6,218.0 L131.4,218.1 L131.3,218.2 L131.1,218.3 L131.0,218.4 L130.8,218.5 L130.7,218.6 L130.5,218.7 L130.4,218.9 L130.2,219.0 L130.1,219.1 L129.9,219.2 L129.8,219.3 L129.6,219.4 L129.5,219.5 L129.3,219.7 L129.2,219.8 L129.0,219.9 L128.9,220.0 L128.7,220.1 L128.6,220.3 L128.4,220.4 L128.3,220.5 L128.2,220.6 L128.0,220.8 L127.9,220.9 L127.7,221.0 L127.6,221.1 L127.4,221.3 L127.3,221.4 L127.2,221.5 L127.0,221.7 L126.9,221.8 L126.8,221.9 L126.6,222.1 L126.5,222.2 L126.3,222.4 L126.2,222.5 L126.1,222.6 L125.9,222.8 L125.8,222.9 L125.7,223.1 L125.6,223.2 L125.4,223.4 L125.3,223.5 L125.2,223.7 L125.0,223.8 L124.9,223.9 L124.8,224.1 L124.7,224.3 L124.5,224.4 L124.4,224.6 L124.3,224.7 L124.2,224.9Z M160.8,217.0 L151.2,219.0 L152.9,211.2 Z" fill="#1a1a1a"/><path d="M343.1,107.6 L343.4,107.5 L343.6,107.3 L343.8,107.1 L344.0,106.9 L344.2,106.7 L344.5,106.6 L344.7,106.4 L344.9,106.2 L345.1,106.0 L345.4,105.8 L345.6,105.7 L345.8,105.5 L346.1,105.3 L346.3,105.1 L346.5,105.0 L346.7,104.8 L347.0,104.6 L347.2,104.5 L347.4,104.3 L347.7,104.1 L347.9,103.9 L348.1,103.8 L348.3,103.6 L348.6,103.4 L348.8,103.3 L349.0,103.1 L349.3,102.9 L349.5,102.8 L349.7,102.6 L350.0,102.4 L350.2,102.3 L350.5,102.1 L350.7,101.9 L350.9,101.8 L351.2,101.6 L351.4,101.5 L351.6,101.3 L351.9,101.1 L352.1,101.0 L352.4,100.8 L352.6,100.7 L352.8,100.5 L353.1,100.4 L353.3,100.2 L353.6,100.0 L353.8,99.9 L354.1,99.7 L354.3,99.6 L354.5,99.4 L354.8,99.3 L355.0,99.1 L355.3,99.0 L355.5,98.8 L355.8,98.7 L356.0,98.5 L356.3,98.4 L356.5,98.2 L356.8,98.1 L357.0,97.9 L357.3,97.8 L357.5,97.6 L357.7,97.5 L358.0,97.4 L358.3,97.2 L358.5,97.1 L358.8,96.9 L359.0,96.8 L359.3,96.6 L359.5,96.5 L359.8,96.4 L360.0,96.2 L360.3,96.1 L360.5,95.9 L360.8,95.8 L361.0,95.7 L361.3,95.5 L361.6,95.4 L361.8,95.3 L362.1,95.1 L362.3,95.0 L362.6,94.9 L362.8,94.7 L363.1,94.6 L363.4,94.5 L363.6,94.3 L363.9,94.2 L364.1,94.1 L364.4,94.0 L364.7,93.8 L364.9,93.7 L365.2,93.6 L365.5,93.5 L365.7,93.3 L366.0,93.2 L366.2,93.1 L366.5,93.0 L366.8,92.8 L367.0,92.7 L367.3,92.6 L367.6,92.5 L367.8,92.3 L368.1,92.2 L368.4,92.1 L368.7,92.0 L368.9,91.9 L369.2,91.8 L369.5,91.6 L369.7,91.5 L370.0,91.4 L370.3,91.3 L370.5,91.2 L370.8,91.0 L371.1,90.9 L371.3,90.8 L371.6,90.7 L371.9,90.5 L372.2,90.4 L372.4,90.3 L372.7,90.2 L373.0,90.1 L373.2,89.9 L373.5,89.8 L373.8,89.7 L374.1,89.6 L374.3,89.5 L374.6,89.4 L374.9,89.2 L375.2,89.1 L375.4,89.0 L375.7,88.9 L376.0,88.8 L376.3,88.7 L376.6,88.6 L376.8,88.5 L377.1,88.4 L377.4,88.2 L377.7,88.1 L378.0,88.0 L378.2,87.9 L378.5,87.8 L378.8,87.7 L379.1,87.6 L379.4,87.5 L379.7,87.4 L379.9,87.3 L380.2,87.2 L380.5,87.1 L380.8,87.0 L381.1,86.9 L381.4,86.8 L381.7,86.7 L382.0,86.6 L382.2,86.5 L382.5,86.4 L382.8,86.3 L383.1,86.2 L383.4,86.1 L383.7,86.0 L384.0,85.9 L384.3,85.8 L384.6,85.7 L384.9,85.6 L385.2,85.5 L385.5,85.4 L385.8,85.3 L386.0,85.2 L386.3,85.1 L386.6,85.1 L386.9,85.0 L387.2,84.9 L387.5,84.8 L387.8,84.7 L388.1,84.6 L388.4,84.5 L387.7,81.8 L387.3,81.9 L387.0,82.0 L386.7,82.1 L386.4,82.2 L386.1,82.3 L385.8,82.4 L385.5,82.5 L385.2,82.6 L384.9,82.7 L384.6,82.7 L384.3,82.8 L384.0,82.9 L383.7,83.0 L383.4,83.1 L383.1,83.2 L382.8,83.3 L382.5,83.4 L382.2,83.5 L381.9,83.6 L381.6,83.7 L381.3,83.8 L381.0,83.9 L380.7,84.0 L380.4,84.1 L380.2,84.2 L379.9,84.3 L379.6,84.4 L379.3,84.5 L379.0,84.7 L378.7,84.8 L378.4,84.9 L378.1,85.0 L377.8,85.1 L377.5,85.2 L377.2,85.3 L377.0,85.4 L376.7,85.5 L376.4,85.6 L376.1,85.7 L375.8,85.9 L375.5,86.0 L375.2,86.1 L375.0,86.2 L374.7,86.3 L374.4,86.4 L374.1,86.5 L373.8,86.7 L373.5,86.8 L373.3,86.9 L373.0,87.0 L372.7,87.1 L372.4,87.3 L372.1,87.4 L371.9,87.5 L371.6,87.6 L371.3,87.7 L371.0,87.9 L370.7,88.0 L370.5,88.1 L370.2,88.2 L369.9,88.4 L369.6,88.5 L369.4,88.6 L369.1,88.7 L368.8,88.9 L368.5,89.0 L368.3,89.1 L368.0,89.3 L367.7,89.4 L367.5,89.6 L367.2,89.7 L366.9,89.8 L366.7,90.0 L366.4,90.1 L366.2,90.3 L365.9,90.4 L365.6,90.6 L365.4,90.7 L365.1,90.9 L364.8,91.0 L364.6,91.2 L364.3,91.3 L364.1,91.4 L363.8,91.6 L363.6,91.7 L363.3,91.9 L363.0,92.0 L362.8,92.2 L362.5,92.3 L362.3,92.5 L362.0,92.7 L361.8,92.8 L361.5,93.0 L361.3,93.1 L361.0,93.3 L360.8,93.4 L360.5,93.6 L360.3,93.7 L360.0,93.9 L359.8,94.1 L359.5,94.2 L359.3,94.4 L359.0,94.5 L358.8,94.7 L358.5,94.9 L358.3,95.0 L358.0,95.2 L357.8,95.3 L357.5,95.5 L357.3,95.7 L357.1,95.8 L356.8,96.0 L356.6,96.2 L356.3,96.3 L356.1,96.5 L355.8,96.7 L355.6,96.8 L355.4,97.0 L355.1,97.2 L354.9,97.3 L354.7,97.5 L354.4,97.7 L354.2,97.9 L353.9,98.0 L353.7,98.2 L353.5,98.4 L353.2,98.5 L353.0,98.7 L352.8,98.9 L352.5,99.1 L352.3,99.2 L352.1,99.4 L351.8,99.6 L351.6,99.8 L351.4,100.0 L351.2,100.1 L350.9,100.3 L350.7,100.5 L350.5,100.7 L350.2,100.9 L350.0,101.0 L349.8,101.2 L349.6,101.4 L349.3,101.6 L349.1,101.8 L348.9,102.0 L348.7,102.1 L348.5,102.3 L348.2,102.5 L348.0,102.7 L347.8,102.9 L347.6,103.1 L347.3,103.3 L347.1,103.5 L346.9,103.6 L346.7,103.8 L346.5,104.0 L346.3,104.2 L346.0,104.4 L345.8,104.6 L345.6,104.8 L345.4,105.0 L345.2,105.2 L345.0,105.4 L344.8,105.6 L344.5,105.8 L344.3,106.0 L344.1,106.2 L343.9,106.4 L343.7,106.6 L343.5,106.8 L343.3,107.0 L343.1,107.2 L342.9,107.4Z M396.1,81.1 L388.6,87.4 L386.5,79.2 Z" fill="#1a1a1a"/><path d="M505.2,99.3 L505.3,99.4 L505.4,99.5 L505.6,99.7 L505.7,99.8 L505.8,99.9 L506.0,100.1 L506.1,100.2 L506.2,100.3 L506.4,100.5 L506.5,100.6 L506.6,100.8 L506.7,100.9 L506.9,101.0 L507.0,101.2 L507.1,101.3 L507.2,101.5 L507.3,101.6 L507.4,101.7 L507.6,101.9 L507.7,102.0 L507.8,102.2 L507.9,102.3 L508.0,102.5 L508.1,102.6 L508.2,102.8 L508.3,102.9 L508.4,103.0 L508.5,103.2 L508.6,103.3 L508.7,103.5 L508.8,103.6 L508.9,103.8 L509.0,103.9 L509.1,104.1 L509.2,104.2 L509.3,104.4 L509.4,104.5 L509.4,104.7 L509.5,104.8 L509.6,105.0 L509.7,105.1 L509.8,105.3 L509.9,105.5 L509.9,105.6 L510.0,105.8 L510.1,105.9 L510.2,106.1 L510.2,106.2 L510.3,106.4 L510.4,106.5 L510.4,106.7 L510.5,106.9 L510.6,107.0 L510.6,107.2 L510.7,107.3 L510.8,107.5 L510.8,107.6 L510.9,107.8 L510.9,108.0 L511.0,108.1 L511.1,108.3 L511.1,108.5 L511.2,108.6 L511.2,108.8 L511.3,108.9 L511.3,109.1 L511.4,109.3 L511.4,109.4 L511.5,109.6 L511.5,109.8 L511.6,109.9 L511.6,110.1 L511.6,110.3 L511.7,110.4 L511.7,110.6 L511.7,110.8 L511.8,110.9 L511.8,111.1 L511.8,111.3 L511.9,111.4 L511.9,111.6 L511.9,111.8 L512.0,112.0 L512.0,112.1 L512.0,112.3 L512.0,112.5 L512.1,112.6 L512.1,112.8 L512.1,113.0 L512.1,113.2 L512.1,113.3 L512.2,113.5 L512.2,113.7 L512.2,113.9 L512.2,114.0 L512.2,114.2 L512.2,114.4 L512.2,114.6 L512.2,114.8 L512.2,114.9 L512.3,115.1 L512.3,115.3 L512.3,115.5 L512.3,115.7 L512.3,115.8 L512.3,116.0 L512.3,116.2 L512.3,116.4 L512.3,116.6 L512.3,116.8 L512.3,116.9 L512.3,117.1 L512.3,117.3 L512.3,117.5 L512.3,117.7 L512.3,117.9 L512.3,118.1 L512.3,118.3 L512.3,118.4 L512.3,118.6 L512.3,118.8 L512.3,119.0 L512.3,119.2 L512.3,119.4 L512.3,119.6 L512.2,119.8 L512.2,120.0 L512.2,120.2 L512.2,120.4 L512.2,120.6 L512.2,120.8 L512.1,121.0 L512.1,121.2 L512.1,121.4 L512.1,121.6 L512.0,121.8 L512.0,122.0 L512.0,122.2 L512.0,122.4 L511.9,122.6 L511.9,122.8 L511.9,123.0 L511.8,123.2 L511.8,123.4 L511.7,123.6 L511.7,123.8 L511.7,124.1 L511.6,124.3 L511.6,124.5 L511.5,124.7 L511.5,124.9 L511.5,125.1 L511.4,125.3 L511.4,125.5 L511.3,125.8 L511.3,126.0 L511.2,126.2 L511.1,126.4 L511.1,126.6 L511.0,126.8 L511.0,127.1 L510.9,127.3 L510.9,127.5 L510.8,127.7 L510.7,127.9 L510.7,128.2 L513.4,128.9 L513.4,128.7 L513.5,128.5 L513.6,128.2 L513.6,128.0 L513.7,127.8 L513.7,127.6 L513.8,127.3 L513.9,127.1 L513.9,126.9 L514.0,126.6 L514.0,126.4 L514.1,126.2 L514.1,125.9 L514.2,125.7 L514.2,125.5 L514.3,125.3 L514.3,125.0 L514.4,124.8 L514.4,124.6 L514.5,124.4 L514.5,124.1 L514.5,123.9 L514.6,123.7 L514.6,123.5 L514.7,123.3 L514.7,123.0 L514.7,122.8 L514.8,122.6 L514.8,122.4 L514.8,122.2 L514.8,121.9 L514.9,121.7 L514.9,121.5 L514.9,121.3 L514.9,121.1 L515.0,120.9 L515.0,120.6 L515.0,120.4 L515.0,120.2 L515.0,120.0 L515.1,119.8 L515.1,119.6 L515.1,119.4 L515.1,119.2 L515.1,118.9 L515.1,118.7 L515.1,118.5 L515.1,118.3 L515.1,118.1 L515.1,117.9 L515.1,117.7 L515.1,117.5 L515.1,117.3 L515.1,117.1 L515.1,116.9 L515.1,116.7 L515.1,116.5 L515.1,116.3 L515.1,116.1 L515.1,115.9 L515.1,115.7 L515.1,115.5 L515.0,115.3 L515.0,115.1 L515.0,114.9 L515.0,114.7 L514.9,114.5 L514.9,114.3 L514.9,114.1 L514.8,113.9 L514.8,113.7 L514.7,113.5 L514.7,113.3 L514.7,113.1 L514.6,112.9 L514.6,112.7 L514.5,112.6 L514.5,112.4 L514.4,112.2 L514.4,112.0 L514.3,111.8 L514.3,111.6 L514.2,111.4 L514.2,111.3 L514.1,111.1 L514.1,110.9 L514.0,110.7 L513.9,110.5 L513.9,110.3 L513.8,110.2 L513.8,110.0 L513.7,109.8 L513.6,109.6 L513.6,109.5 L513.5,109.3 L513.4,109.1 L513.3,108.9 L513.3,108.8 L513.2,108.6 L513.1,108.4 L513.1,108.3 L513.0,108.1 L512.9,107.9 L512.8,107.8 L512.7,107.6 L512.6,107.4 L512.6,107.3 L512.5,107.1 L512.4,106.9 L512.3,106.8 L512.2,106.6 L512.1,106.4 L512.0,106.3 L511.9,106.1 L511.8,106.0 L511.8,105.8 L511.7,105.7 L511.6,105.5 L511.5,105.3 L511.4,105.2 L511.3,105.0 L511.2,104.9 L511.0,104.7 L510.9,104.6 L510.8,104.4 L510.7,104.3 L510.6,104.1 L510.5,104.0 L510.4,103.8 L510.3,103.7 L510.2,103.5 L510.1,103.4 L509.9,103.3 L509.8,103.1 L509.7,103.0 L509.6,102.8 L509.5,102.7 L509.3,102.5 L509.2,102.4 L509.1,102.3 L509.0,102.1 L508.8,102.0 L508.7,101.9 L508.6,101.7 L508.4,101.6 L508.3,101.5 L508.2,101.3 L508.0,101.2 L507.9,101.1 L507.8,100.9 L507.6,100.8 L507.5,100.7 L507.4,100.5 L507.2,100.4 L507.1,100.3 L506.9,100.2 L506.8,100.0 L506.6,99.9 L506.5,99.8 L506.3,99.7 L506.2,99.5 L506.0,99.4 L505.9,99.3 L505.7,99.2 L505.6,99.1 L505.4,98.9Z M509.0,136.7 L508.0,126.5 L516.4,129.7 Z" fill="#1a1a1a"/><path d="M443.9,183.2 L443.9,183.4 L443.9,183.6 L443.8,183.8 L443.8,184.0 L443.8,184.1 L443.8,184.3 L443.8,184.5 L443.8,184.7 L443.7,184.9 L443.7,185.1 L443.7,185.3 L443.7,185.5 L443.7,185.7 L443.7,185.9 L443.7,186.0 L443.7,186.2 L443.7,186.4 L443.7,186.6 L443.7,186.8 L443.7,187.0 L443.7,187.2 L443.7,187.4 L443.7,187.5 L443.7,187.7 L443.7,187.9 L443.7,188.1 L443.7,188.3 L443.8,188.5 L443.8,188.7 L443.8,188.8 L443.8,189.0 L443.8,189.2 L443.8,189.4 L443.9,189.6 L443.9,189.8 L443.9,189.9 L443.9,190.1 L443.9,190.3 L444.0,190.5 L444.0,190.7 L444.0,190.9 L444.1,191.0 L444.1,191.2 L444.1,191.4 L444.2,191.6 L444.2,191.8 L444.2,192.0 L444.3,192.1 L444.3,192.3 L444.4,192.5 L444.4,192.7 L444.4,192.9 L444.5,193.0 L444.5,193.2 L444.6,193.4 L444.6,193.6 L444.7,193.7 L444.7,193.9 L444.8,194.1 L444.9,194.3 L444.9,194.5 L445.0,194.6 L445.0,194.8 L445.1,195.0 L445.1,195.2 L445.2,195.3 L445.3,195.5 L445.3,195.7 L445.4,195.9 L445.5,196.0 L445.6,196.2 L445.6,196.4 L445.7,196.6 L445.8,196.7 L445.8,196.9 L445.9,197.1 L446.0,197.3 L446.1,197.4 L446.2,197.6 L446.3,197.8 L446.3,197.9 L446.4,198.1 L446.5,198.3 L446.6,198.5 L446.7,198.6 L446.8,198.8 L446.9,199.0 L447.0,199.1 L447.1,199.3 L447.2,199.5 L447.3,199.6 L447.4,199.8 L447.5,200.0 L447.6,200.1 L447.7,200.3 L447.8,200.5 L447.9,200.6 L448.0,200.8 L448.1,201.0 L448.2,201.1 L448.3,201.3 L448.4,201.5 L448.6,201.6 L448.7,201.8 L448.8,201.9 L448.9,202.1 L449.1,202.2 L449.2,202.4 L449.3,202.6 L449.5,202.7 L449.6,202.9 L449.7,203.0 L449.9,203.2 L450.0,203.3 L450.2,203.5 L450.3,203.6 L450.4,203.8 L450.6,203.9 L450.7,204.1 L450.9,204.2 L451.0,204.4 L451.2,204.5 L451.3,204.7 L451.5,204.8 L451.6,204.9 L451.8,205.1 L451.9,205.2 L452.1,205.4 L452.2,205.5 L452.4,205.7 L452.6,205.8 L452.7,206.0 L452.9,206.1 L453.0,206.2 L453.2,206.4 L453.4,206.5 L453.5,206.7 L453.7,206.8 L453.9,206.9 L454.1,207.1 L454.2,207.2 L454.4,207.4 L454.6,207.5 L454.8,207.6 L454.9,207.8 L455.1,207.9 L455.3,208.0 L455.5,208.2 L455.7,208.3 L455.8,208.4 L456.0,208.6 L456.2,208.7 L456.4,208.8 L456.6,209.0 L456.8,209.1 L457.0,209.2 L457.2,209.4 L457.4,209.5 L457.6,209.6 L457.7,209.8 L457.9,209.9 L458.1,210.0 L458.3,210.1 L459.9,207.8 L459.7,207.7 L459.5,207.5 L459.3,207.4 L459.1,207.3 L458.9,207.2 L458.7,207.1 L458.5,206.9 L458.4,206.8 L458.2,206.7 L458.0,206.6 L457.8,206.4 L457.7,206.3 L457.5,206.2 L457.3,206.1 L457.1,205.9 L457.0,205.8 L456.8,205.7 L456.6,205.5 L456.5,205.4 L456.3,205.3 L456.1,205.2 L456.0,205.0 L455.8,204.9 L455.7,204.8 L455.5,204.6 L455.3,204.5 L455.2,204.4 L455.0,204.3 L454.9,204.1 L454.7,204.0 L454.6,203.9 L454.4,203.7 L454.3,203.6 L454.1,203.5 L454.0,203.3 L453.8,203.2 L453.7,203.1 L453.5,202.9 L453.4,202.8 L453.3,202.7 L453.1,202.5 L453.0,202.4 L452.9,202.2 L452.7,202.1 L452.6,202.0 L452.5,201.8 L452.3,201.7 L452.2,201.6 L452.1,201.4 L451.9,201.3 L451.8,201.1 L451.7,201.0 L451.6,200.9 L451.4,200.7 L451.3,200.6 L451.2,200.4 L451.1,200.3 L451.0,200.2 L450.9,200.0 L450.7,199.9 L450.6,199.7 L450.5,199.6 L450.4,199.5 L450.3,199.3 L450.2,199.2 L450.0,199.1 L449.9,198.9 L449.8,198.8 L449.7,198.6 L449.6,198.5 L449.5,198.4 L449.4,198.2 L449.3,198.1 L449.2,197.9 L449.0,197.8 L448.9,197.7 L448.8,197.5 L448.7,197.4 L448.6,197.2 L448.5,197.1 L448.4,196.9 L448.3,196.8 L448.2,196.6 L448.1,196.5 L448.0,196.4 L448.0,196.2 L447.9,196.1 L447.8,195.9 L447.7,195.8 L447.6,195.6 L447.5,195.5 L447.4,195.3 L447.3,195.2 L447.2,195.0 L447.2,194.9 L447.1,194.7 L447.0,194.6 L446.9,194.4 L446.8,194.2 L446.8,194.1 L446.7,193.9 L446.6,193.8 L446.5,193.6 L446.5,193.5 L446.4,193.3 L446.3,193.2 L446.3,193.0 L446.2,192.8 L446.1,192.7 L446.1,192.5 L446.0,192.4 L445.9,192.2 L445.9,192.0 L445.8,191.9 L445.7,191.7 L445.7,191.5 L445.6,191.4 L445.6,191.2 L445.5,191.1 L445.5,190.9 L445.4,190.7 L445.4,190.6 L445.3,190.4 L445.3,190.2 L445.2,190.0 L445.2,189.9 L445.1,189.7 L445.1,189.5 L445.0,189.4 L445.0,189.2 L445.0,189.0 L444.9,188.9 L444.9,188.7 L444.8,188.5 L444.8,188.3 L444.8,188.2 L444.7,188.0 L444.7,187.8 L444.7,187.6 L444.6,187.5 L444.6,187.3 L444.6,187.1 L444.6,186.9 L444.5,186.7 L444.5,186.6 L444.5,186.4 L444.5,186.2 L444.4,186.0 L444.4,185.8 L444.4,185.6 L444.4,185.5 L444.4,185.3 L444.4,185.1 L444.4,184.9 L444.3,184.7 L444.3,184.5 L444.3,184.3 L444.3,184.2 L444.3,184.0 L444.3,183.8 L444.3,183.6 L444.3,183.4 L444.3,183.2Z M467.2,213.3 L456.7,212.4 L460.6,205.0 Z" fill="#1a1a1a"/><path d="M569.3,229.6 L569.5,229.7 L569.7,229.9 L569.9,230.1 L570.1,230.2 L570.4,230.4 L570.6,230.6 L570.8,230.7 L571.0,230.9 L571.2,231.1 L571.4,231.2 L571.6,231.4 L571.8,231.6 L572.0,231.7 L572.2,231.9 L572.4,232.1 L572.6,232.3 L572.8,232.4 L573.0,232.6 L573.2,232.8 L573.4,232.9 L573.5,233.1 L573.7,233.3 L573.9,233.5 L574.1,233.6 L574.3,233.8 L574.5,234.0 L574.7,234.2 L574.8,234.4 L575.0,234.5 L575.2,234.7 L575.4,234.9 L575.6,235.1 L575.7,235.2 L575.9,235.4 L576.1,235.6 L576.3,235.8 L576.4,236.0 L576.6,236.2 L576.8,236.3 L576.9,236.5 L577.1,236.7 L577.3,236.9 L577.4,237.1 L577.6,237.3 L577.7,237.4 L577.9,237.6 L578.0,237.8 L578.2,238.0 L578.4,238.2 L578.5,238.4 L578.7,238.6 L578.8,238.8 L579.0,239.0 L579.1,239.1 L579.3,239.3 L579.4,239.5 L579.6,239.7 L579.7,239.9 L579.8,240.1 L580.0,240.3 L580.1,240.5 L580.3,240.7 L580.4,240.9 L580.5,241.1 L580.7,241.3 L580.8,241.5 L580.9,241.7 L581.1,241.9 L581.2,242.1 L581.3,242.3 L581.4,242.4 L581.6,242.6 L581.7,242.8 L581.8,243.0 L581.9,243.2 L582.1,243.4 L582.2,243.6 L582.3,243.8 L582.4,244.0 L582.5,244.3 L582.7,244.5 L582.8,244.7 L582.9,244.9 L583.0,245.1 L583.1,245.3 L583.2,245.5 L583.3,245.7 L583.4,245.9 L583.5,246.1 L583.6,246.3 L583.7,246.5 L583.8,246.7 L583.9,246.9 L584.0,247.1 L584.1,247.3 L584.2,247.5 L584.3,247.8 L584.4,248.0 L584.5,248.2 L584.6,248.4 L584.7,248.6 L584.8,248.8 L584.9,249.0 L585.0,249.2 L585.0,249.5 L585.1,249.7 L585.2,249.9 L585.3,250.1 L585.4,250.3 L585.5,250.5 L585.6,250.7 L585.7,250.9 L585.8,251.1 L585.8,251.4 L585.9,251.6 L586.0,251.8 L586.1,252.0 L586.2,252.2 L586.3,252.4 L586.3,252.6 L586.4,252.9 L586.5,253.1 L586.6,253.3 L586.6,253.5 L586.7,253.7 L586.8,254.0 L586.9,254.2 L586.9,254.4 L587.0,254.6 L587.1,254.9 L587.1,255.1 L587.2,255.3 L587.3,255.5 L587.3,255.7 L587.4,256.0 L587.4,256.2 L587.5,256.4 L587.6,256.7 L587.6,256.9 L587.7,257.1 L587.7,257.3 L587.8,257.6 L587.8,257.8 L587.9,258.0 L587.9,258.3 L588.0,258.5 L588.0,258.7 L588.1,259.0 L588.1,259.2 L588.2,259.4 L588.2,259.7 L588.2,259.9 L588.3,260.1 L588.3,260.4 L588.4,260.6 L588.4,260.9 L588.4,261.1 L588.5,261.3 L588.5,261.6 L588.5,261.8 L588.6,262.1 L588.6,262.3 L588.6,262.5 L588.7,262.8 L588.7,263.0 L588.7,263.3 L588.7,263.5 L588.8,263.8 L588.8,264.0 L591.6,263.8 L591.5,263.5 L591.5,263.2 L591.5,263.0 L591.5,262.7 L591.4,262.5 L591.4,262.2 L591.4,261.9 L591.3,261.7 L591.3,261.4 L591.3,261.2 L591.2,260.9 L591.2,260.7 L591.2,260.4 L591.1,260.2 L591.1,259.9 L591.0,259.7 L591.0,259.4 L591.0,259.2 L590.9,258.9 L590.9,258.7 L590.8,258.4 L590.8,258.2 L590.7,257.9 L590.7,257.7 L590.6,257.4 L590.6,257.2 L590.5,256.9 L590.4,256.7 L590.4,256.5 L590.3,256.2 L590.3,256.0 L590.2,255.7 L590.1,255.5 L590.1,255.2 L590.0,255.0 L589.9,254.8 L589.9,254.5 L589.8,254.3 L589.7,254.1 L589.7,253.8 L589.6,253.6 L589.5,253.3 L589.4,253.1 L589.4,252.9 L589.3,252.6 L589.2,252.4 L589.1,252.2 L589.1,251.9 L589.0,251.7 L588.9,251.5 L588.8,251.2 L588.7,251.0 L588.6,250.8 L588.5,250.6 L588.4,250.3 L588.4,250.1 L588.3,249.9 L588.2,249.6 L588.1,249.4 L588.0,249.2 L587.9,249.0 L587.8,248.7 L587.7,248.5 L587.6,248.3 L587.5,248.1 L587.3,247.9 L587.2,247.6 L587.1,247.4 L587.0,247.2 L586.9,247.0 L586.8,246.8 L586.6,246.6 L586.5,246.4 L586.4,246.1 L586.3,245.9 L586.1,245.7 L586.0,245.5 L585.9,245.3 L585.8,245.1 L585.6,244.9 L585.5,244.7 L585.4,244.5 L585.2,244.3 L585.1,244.1 L585.0,243.9 L584.8,243.7 L584.7,243.5 L584.5,243.3 L584.4,243.1 L584.3,242.9 L584.1,242.7 L584.0,242.5 L583.8,242.3 L583.7,242.1 L583.5,241.9 L583.4,241.7 L583.2,241.5 L583.1,241.3 L582.9,241.1 L582.8,240.9 L582.6,240.7 L582.5,240.5 L582.3,240.3 L582.2,240.1 L582.0,239.9 L581.8,239.8 L581.7,239.6 L581.5,239.4 L581.4,239.2 L581.2,239.0 L581.0,238.8 L580.9,238.6 L580.7,238.5 L580.5,238.3 L580.4,238.1 L580.2,237.9 L580.0,237.7 L579.8,237.5 L579.7,237.4 L579.5,237.2 L579.3,237.0 L579.1,236.8 L579.0,236.7 L578.8,236.5 L578.6,236.3 L578.4,236.1 L578.2,236.0 L578.0,235.8 L577.9,235.6 L577.7,235.4 L577.5,235.3 L577.3,235.1 L577.1,234.9 L576.9,234.7 L576.7,234.6 L576.5,234.4 L576.3,234.2 L576.1,234.1 L575.9,233.9 L575.7,233.7 L575.5,233.6 L575.3,233.4 L575.1,233.3 L574.9,233.1 L574.7,232.9 L574.5,232.8 L574.3,232.6 L574.1,232.4 L573.9,232.3 L573.7,232.1 L573.5,232.0 L573.3,231.8 L573.1,231.7 L572.8,231.5 L572.6,231.3 L572.4,231.2 L572.2,231.0 L572.0,230.9 L571.8,230.7 L571.5,230.6 L571.3,230.4 L571.1,230.3 L570.9,230.1 L570.7,230.0 L570.4,229.8 L570.2,229.7 L570.0,229.5 L569.7,229.4 L569.5,229.2Z M590.3,272.0 L585.9,263.4 L594.5,263.3 Z" fill="#1a1a1a"/><path d="M536.6,363.5 L536.5,363.6 L536.4,363.8 L536.2,364.0 L536.1,364.2 L536.0,364.3 L535.9,364.5 L535.7,364.7 L535.6,364.8 L535.5,365.0 L535.4,365.2 L535.2,365.3 L535.1,365.5 L535.0,365.7 L534.9,365.9 L534.8,366.0 L534.7,366.2 L534.6,366.4 L534.5,366.6 L534.4,366.7 L534.3,366.9 L534.1,367.1 L534.0,367.3 L533.9,367.4 L533.9,367.6 L533.8,367.8 L533.7,368.0 L533.6,368.1 L533.5,368.3 L533.4,368.5 L533.3,368.7 L533.2,368.9 L533.1,369.1 L533.0,369.2 L533.0,369.4 L532.9,369.6 L532.8,369.8 L532.7,370.0 L532.7,370.2 L532.6,370.3 L532.5,370.5 L532.4,370.7 L532.4,370.9 L532.3,371.1 L532.2,371.3 L532.2,371.5 L532.1,371.7 L532.1,371.8 L532.0,372.0 L531.9,372.2 L531.9,372.4 L531.8,372.6 L531.8,372.8 L531.7,373.0 L531.7,373.2 L531.6,373.4 L531.6,373.6 L531.6,373.8 L531.5,374.0 L531.5,374.2 L531.4,374.4 L531.4,374.5 L531.4,374.7 L531.3,374.9 L531.3,375.1 L531.3,375.3 L531.3,375.5 L531.2,375.7 L531.2,375.9 L531.2,376.1 L531.2,376.3 L531.2,376.5 L531.1,376.7 L531.1,376.9 L531.1,377.1 L531.1,377.4 L531.1,377.6 L531.1,377.8 L531.1,378.0 L531.1,378.2 L531.1,378.4 L531.1,378.6 L531.1,378.8 L531.1,379.0 L531.1,379.2 L531.1,379.4 L531.1,379.6 L531.1,379.8 L531.1,380.0 L531.1,380.2 L531.1,380.5 L531.2,380.7 L531.2,380.9 L531.2,381.1 L531.2,381.3 L531.3,381.5 L531.3,381.7 L531.3,381.9 L531.3,382.2 L531.4,382.4 L531.4,382.6 L531.4,382.8 L531.5,383.0 L531.5,383.2 L531.6,383.4 L531.6,383.7 L531.6,383.9 L531.7,384.1 L531.8,384.3 L531.8,384.5 L531.9,384.7 L531.9,384.9 L532.0,385.2 L532.1,385.4 L532.1,385.6 L532.2,385.8 L532.3,386.0 L532.4,386.2 L532.4,386.5 L532.5,386.7 L532.6,386.9 L532.7,387.1 L532.8,387.3 L532.8,387.5 L532.9,387.8 L533.0,388.0 L533.1,388.2 L533.2,388.4 L533.3,388.6 L533.4,388.8 L533.5,389.1 L533.6,389.3 L533.7,389.5 L533.8,389.7 L533.9,389.9 L534.0,390.2 L534.1,390.4 L534.2,390.6 L534.3,390.8 L534.4,391.0 L534.5,391.3 L534.7,391.5 L534.8,391.7 L534.9,391.9 L535.0,392.2 L535.1,392.4 L535.3,392.6 L535.4,392.8 L535.5,393.0 L535.7,393.3 L535.8,393.5 L535.9,393.7 L536.0,393.9 L536.2,394.2 L536.3,394.4 L536.5,394.6 L536.6,394.8 L536.7,395.1 L536.9,395.3 L537.0,395.5 L537.2,395.7 L537.3,396.0 L537.5,396.2 L537.6,396.4 L537.8,396.6 L537.9,396.9 L538.1,397.1 L538.3,397.3 L538.4,397.5 L538.6,397.8 L538.8,398.0 L538.9,398.2 L541.2,396.6 L541.0,396.4 L540.9,396.1 L540.7,395.9 L540.6,395.7 L540.4,395.5 L540.2,395.3 L540.1,395.1 L540.0,394.8 L539.8,394.6 L539.7,394.4 L539.5,394.2 L539.4,394.0 L539.2,393.8 L539.1,393.5 L539.0,393.3 L538.8,393.1 L538.7,392.9 L538.6,392.7 L538.4,392.5 L538.3,392.3 L538.2,392.1 L538.1,391.9 L537.9,391.6 L537.8,391.4 L537.7,391.2 L537.6,391.0 L537.5,390.8 L537.4,390.6 L537.3,390.4 L537.1,390.2 L537.0,390.0 L536.9,389.8 L536.8,389.6 L536.7,389.4 L536.6,389.2 L536.5,388.9 L536.4,388.7 L536.3,388.5 L536.2,388.3 L536.1,388.1 L536.0,387.9 L536.0,387.7 L535.9,387.5 L535.8,387.3 L535.7,387.1 L535.6,386.9 L535.5,386.7 L535.4,386.5 L535.4,386.3 L535.3,386.1 L535.2,385.9 L535.1,385.7 L535.1,385.5 L535.0,385.3 L534.9,385.1 L534.9,384.9 L534.8,384.7 L534.7,384.5 L534.7,384.3 L534.6,384.1 L534.6,383.9 L534.5,383.7 L534.5,383.5 L534.4,383.4 L534.3,383.2 L534.3,383.0 L534.2,382.8 L534.2,382.6 L534.1,382.4 L534.0,382.2 L534.0,382.0 L533.9,381.8 L533.9,381.6 L533.8,381.5 L533.8,381.3 L533.8,381.1 L533.7,380.9 L533.7,380.7 L533.6,380.5 L533.6,380.3 L533.5,380.1 L533.5,379.9 L533.5,379.8 L533.4,379.6 L533.4,379.4 L533.4,379.2 L533.4,379.0 L533.3,378.8 L533.3,378.6 L533.3,378.5 L533.3,378.3 L533.2,378.1 L533.2,377.9 L533.2,377.7 L533.2,377.5 L533.2,377.3 L533.2,377.2 L533.2,377.0 L533.2,376.8 L533.1,376.6 L533.1,376.4 L533.1,376.2 L533.1,376.0 L533.1,375.9 L533.1,375.7 L533.1,375.5 L533.1,375.3 L533.2,375.1 L533.2,374.9 L533.2,374.8 L533.2,374.6 L533.2,374.4 L533.2,374.2 L533.2,374.0 L533.2,373.8 L533.3,373.7 L533.3,373.5 L533.3,373.3 L533.3,373.1 L533.4,372.9 L533.4,372.7 L533.4,372.6 L533.4,372.4 L533.5,372.2 L533.5,372.0 L533.5,371.8 L533.6,371.6 L533.6,371.5 L533.7,371.3 L533.7,371.1 L533.8,370.9 L533.8,370.7 L533.8,370.6 L533.9,370.4 L533.9,370.2 L534.0,370.0 L534.1,369.8 L534.1,369.6 L534.2,369.5 L534.2,369.3 L534.3,369.1 L534.4,368.9 L534.4,368.7 L534.5,368.6 L534.6,368.4 L534.6,368.2 L534.7,368.0 L534.8,367.8 L534.8,367.7 L534.9,367.5 L535.0,367.3 L535.1,367.1 L535.2,366.9 L535.3,366.8 L535.3,366.6 L535.4,366.4 L535.5,366.2 L535.6,366.0 L535.7,365.9 L535.8,365.7 L535.9,365.5 L536.0,365.3 L536.1,365.1 L536.2,365.0 L536.3,364.8 L536.4,364.6 L536.5,364.4 L536.6,364.3 L536.7,364.1 L536.8,363.9 L537.0,363.7Z M545.5,404.0 L536.5,399.7 L543.0,394.3 Z" fill="#1a1a1a"/><path d="M262.0,260.8 L262.1,261.0 L262.2,261.3 L262.3,261.5 L262.4,261.7 L262.5,262.0 L262.6,262.2 L262.7,262.5 L262.8,262.7 L262.9,263.0 L263.0,263.2 L263.1,263.5 L263.1,263.7 L263.2,264.0 L263.3,264.2 L263.4,264.5 L263.5,264.8 L263.5,265.0 L263.6,265.3 L263.7,265.5 L263.7,265.8 L263.8,266.1 L263.9,266.3 L263.9,266.6 L264.0,266.9 L264.1,267.1 L264.1,267.4 L264.2,267.7 L264.2,268.0 L264.3,268.2 L264.3,268.5 L264.4,268.8 L264.4,269.1 L264.5,269.3 L264.5,269.6 L264.6,269.9 L264.6,270.2 L264.6,270.5 L264.7,270.8 L264.7,271.0 L264.7,271.3 L264.8,271.6 L264.8,271.9 L264.8,272.2 L264.9,272.5 L264.9,272.8 L264.9,273.1 L264.9,273.4 L264.9,273.7 L265.0,274.0 L265.0,274.3 L265.0,274.6 L265.0,274.9 L265.0,275.2 L265.0,275.5 L265.0,275.8 L265.0,276.1 L265.0,276.4 L265.0,276.8 L265.0,277.1 L265.0,277.4 L265.0,277.7 L265.0,278.0 L265.0,278.3 L265.0,278.7 L265.0,279.0 L265.0,279.3 L265.0,279.6 L265.0,280.0 L264.9,280.3 L264.9,280.6 L264.9,280.9 L264.9,281.3 L264.9,281.6 L264.8,281.9 L264.8,282.3 L264.8,282.6 L264.7,283.0 L264.7,283.3 L264.7,283.6 L264.6,284.0 L264.6,284.3 L264.6,284.7 L264.5,285.0 L264.5,285.4 L264.4,285.7 L264.4,286.1 L264.3,286.4 L264.3,286.8 L264.2,287.1 L264.2,287.5 L264.1,287.8 L264.1,288.2 L264.0,288.5 L263.9,288.9 L263.9,289.3 L263.8,289.6 L263.7,290.0 L263.7,290.4 L263.6,290.7 L263.5,291.1 L263.5,291.5 L263.4,291.8 L263.3,292.2 L263.2,292.6 L263.2,293.0 L263.1,293.4 L263.0,293.7 L262.9,294.1 L262.8,294.5 L262.7,294.9 L262.6,295.3 L262.5,295.6 L262.5,296.0 L262.4,296.4 L262.3,296.8 L262.2,297.2 L262.1,297.6 L262.0,298.0 L261.9,298.4 L261.8,298.8 L261.7,299.2 L261.6,299.6 L261.5,300.0 L261.4,300.4 L261.3,300.8 L261.2,301.2 L261.1,301.6 L261.0,302.1 L260.9,302.5 L260.7,302.9 L260.6,303.3 L260.5,303.7 L260.4,304.1 L260.3,304.6 L260.1,305.0 L260.0,305.4 L259.9,305.8 L259.8,306.2 L259.6,306.7 L259.5,307.1 L259.4,307.5 L259.2,308.0 L259.1,308.4 L259.0,308.8 L258.8,309.3 L258.7,309.7 L258.5,310.1 L258.4,310.6 L258.2,311.0 L258.1,311.5 L257.9,311.9 L257.8,312.4 L257.6,312.8 L257.5,313.3 L257.3,313.7 L257.1,314.2 L257.0,314.6 L256.8,315.1 L256.7,315.5 L256.5,316.0 L256.3,316.4 L256.1,316.9 L256.0,317.4 L255.8,317.8 L255.6,318.3 L255.4,318.8 L255.3,319.2 L255.1,319.7 L254.9,320.2 L254.7,320.6 L254.5,321.1 L254.3,321.6 L254.1,322.1 L253.9,322.5 L253.8,323.0 L253.6,323.5 L253.4,324.0 L253.2,324.5 L253.0,324.9 L252.8,325.4 L255.2,326.4 L255.4,325.9 L255.6,325.5 L255.8,325.0 L256.0,324.5 L256.2,324.0 L256.4,323.5 L256.6,323.0 L256.7,322.5 L256.9,322.1 L257.1,321.6 L257.3,321.1 L257.5,320.6 L257.7,320.2 L257.9,319.7 L258.0,319.2 L258.2,318.7 L258.4,318.3 L258.6,317.8 L258.8,317.3 L258.9,316.9 L259.1,316.4 L259.3,316.0 L259.4,315.5 L259.6,315.0 L259.8,314.6 L259.9,314.1 L260.1,313.7 L260.2,313.2 L260.4,312.8 L260.5,312.3 L260.7,311.9 L260.8,311.4 L261.0,311.0 L261.1,310.5 L261.3,310.1 L261.4,309.6 L261.6,309.2 L261.7,308.7 L261.8,308.3 L262.0,307.9 L262.1,307.4 L262.3,307.0 L262.4,306.6 L262.5,306.1 L262.6,305.7 L262.8,305.3 L262.9,304.9 L263.0,304.4 L263.1,304.0 L263.3,303.6 L263.4,303.2 L263.5,302.7 L263.6,302.3 L263.7,301.9 L263.8,301.5 L263.9,301.1 L264.0,300.7 L264.1,300.2 L264.2,299.8 L264.3,299.4 L264.4,299.0 L264.5,298.6 L264.6,298.2 L264.7,297.8 L264.8,297.4 L264.9,297.0 L265.0,296.6 L265.1,296.2 L265.2,295.8 L265.2,295.4 L265.3,295.0 L265.4,294.6 L265.4,294.2 L265.5,293.8 L265.6,293.4 L265.6,293.0 L265.7,292.7 L265.7,292.3 L265.8,291.9 L265.9,291.5 L265.9,291.1 L266.0,290.7 L266.0,290.4 L266.1,290.0 L266.1,289.6 L266.2,289.2 L266.2,288.9 L266.2,288.5 L266.3,288.1 L266.3,287.7 L266.4,287.4 L266.4,287.0 L266.4,286.6 L266.5,286.3 L266.5,285.9 L266.5,285.6 L266.5,285.2 L266.6,284.8 L266.6,284.5 L266.6,284.1 L266.6,283.8 L266.6,283.4 L266.6,283.1 L266.7,282.7 L266.7,282.4 L266.7,282.0 L266.7,281.7 L266.7,281.3 L266.7,281.0 L266.7,280.7 L266.7,280.3 L266.7,280.0 L266.7,279.7 L266.7,279.3 L266.7,279.0 L266.7,278.7 L266.7,278.3 L266.6,278.0 L266.6,277.7 L266.6,277.4 L266.6,277.0 L266.6,276.7 L266.6,276.4 L266.5,276.1 L266.5,275.7 L266.5,275.4 L266.4,275.1 L266.4,274.8 L266.4,274.5 L266.3,274.2 L266.3,273.9 L266.3,273.6 L266.2,273.3 L266.2,273.0 L266.2,272.7 L266.1,272.4 L266.1,272.1 L266.0,271.8 L266.0,271.5 L265.9,271.2 L265.9,270.9 L265.8,270.6 L265.7,270.3 L265.7,270.0 L265.6,269.7 L265.6,269.4 L265.5,269.1 L265.4,268.9 L265.4,268.6 L265.3,268.3 L265.2,268.0 L265.1,267.7 L265.1,267.5 L265.0,267.2 L264.9,266.9 L264.8,266.6 L264.8,266.4 L264.7,266.1 L264.6,265.8 L264.5,265.6 L264.4,265.3 L264.3,265.1 L264.2,264.8 L264.1,264.5 L264.0,264.3 L263.9,264.0 L263.8,263.8 L263.7,263.5 L263.6,263.3 L263.5,263.0 L263.4,262.8 L263.3,262.5 L263.2,262.3 L263.1,262.0 L263.0,261.8 L262.9,261.6 L262.7,261.3 L262.6,261.1 L262.5,260.8 L262.4,260.6Z M249.5,336.0 L249.1,323.2 L259.2,327.7 Z" fill="#1a1a1a"/><text x="564.5" y="45.8" font-size="13.69" font-weight="bold" fill="#111" stroke="#111" stroke-width="0.65" textLength="67.0" lengthAdjust="spacingAndGlyphs">Membrane</text><text x="571.4" y="60.8" font-size="13.69" font-weight="bold" fill="#111" stroke="#111" stroke-width="0.65" textLength="52.6" lengthAdjust="spacingAndGlyphs">blebbing</text><text x="200.0" y="84.8" font-size="14.94" font-weight="bold" fill="#111" stroke="#111" stroke-width="0.65" textLength="83.6" lengthAdjust="spacingAndGlyphs">Endocytosis:</text><text x="193.0" y="103.4" font-size="14.94" font-weight="bold" fill="#111" stroke="#111" stroke-width="0.65" textLength="98.0" lengthAdjust="spacingAndGlyphs">Internalization</text><text x="593.4" y="139.9" font-size="12.99" font-weight="bold" fill="#111" stroke="#111" stroke-width="0.65" textLength="38.9" lengthAdjust="spacingAndGlyphs">DYING</text><text x="599.4" y="157.9" font-size="12.99" font-weight="bold" fill="#111" stroke="#111" stroke-width="0.65" textLength="26.9" lengthAdjust="spacingAndGlyphs">CELL</text><text x="336.0" y="164.3" font-size="11.59" font-weight="bold" fill="#111" stroke="#111" stroke-width="0.65" textLength="88.7" lengthAdjust="spacingAndGlyphs">Early Endosome</text><text x="395.6" y="184.4" font-size="12.01" font-weight="bold" fill="#111" stroke="#111" stroke-width="0.65" textLength="27.7" lengthAdjust="spacingAndGlyphs">Rab5</text><text x="234.2" y="196.4" font-size="11.31" font-weight="bold" fill="#111" stroke="#111" stroke-width="0.65" textLength="35.5" lengthAdjust="spacingAndGlyphs">P2X7R</text><text x="99.9" y="245.8" font-size="17.46" font-weight="bold" fill="#111" stroke="#111" stroke-width="0.65" textLength="30.1" lengthAdjust="spacingAndGlyphs">ATP</text><text x="278.8" y="250.9" font-size="15.78" font-weight="bold" fill="#111" stroke="#111" stroke-width="0.65" textLength="16.9" lengthAdjust="spacingAndGlyphs">Ca</text><text x="387.3" y="239.7" font-size="11.59" font-weight="bold" fill="#111" stroke="#111" stroke-width="0.65" textLength="85.3" lengthAdjust="spacingAndGlyphs">Late Endosome</text><text x="446.0" y="259.7" font-size="11.73" font-weight="bold" fill="#111" stroke="#111" stroke-width="0.65" textLength="28.0" lengthAdjust="spacingAndGlyphs">Rab7</text><text x="605.4" y="231.8" font-size="13.13" font-weight="bold" fill="#111" stroke="#111" stroke-width="0.65" textLength="35.6" lengthAdjust="spacingAndGlyphs">TSPAN</text><text x="606.0" y="248.0" font-size="12.99" font-weight="bold" fill="#111" stroke="#111" stroke-width="0.65" textLength="34.0" lengthAdjust="spacingAndGlyphs">ESCRT</text><text x="735.7" y="216.6" font-size="15.64" font-weight="bold" fill="#111" stroke="#111" stroke-width="0.65" textLength="66.5" lengthAdjust="spacingAndGlyphs">Apoptotic</text><text x="747.0" y="233.9" font-size="15.64" font-weight="bold" fill="#111" stroke="#111" stroke-width="0.65" textLength="43.8" lengthAdjust="spacingAndGlyphs">bodies</text><text x="337.3" y="301.5" font-size="11.59" font-weight="bold" fill="#111" stroke="#111" stroke-width="0.65" textLength="28.0" lengthAdjust="spacingAndGlyphs">Golgi</text><text x="481.0" y="325.8" font-size="12.15" font-weight="bold" fill="#111" stroke="#111" stroke-width="0.65" textLength="26.9" lengthAdjust="spacingAndGlyphs">MVB</text><text x="625.4" y="336.0" font-size="13.13" font-weight="bold" fill="#111" stroke="#111" stroke-width="0.65" textLength="34.6" lengthAdjust="spacingAndGlyphs">Rab27</text><text x="625.4" y="352.4" font-size="13.13" font-weight="bold" fill="#111" stroke="#111" stroke-width="0.65" textLength="34.6" lengthAdjust="spacingAndGlyphs">Rab35</text><text x="621.0" y="368.6" font-size="13.13" font-weight="bold" fill="#111" stroke="#111" stroke-width="0.65" textLength="43.8" lengthAdjust="spacingAndGlyphs">VPS33b</text><text x="147.0" y="336.0" font-size="13.13" font-weight="bold" fill="#111" stroke="#111" stroke-width="0.65" textLength="67.0" lengthAdjust="spacingAndGlyphs">Membrane</text><text x="155.7" y="352.8" font-size="13.13" font-weight="bold" fill="#111" stroke="#111" stroke-width="0.65" textLength="50.2" lengthAdjust="spacingAndGlyphs">budding</text><text x="234.8" y="379.4" font-size="11.73" font-weight="bold" fill="#111" stroke="#111" stroke-width="0.30" textLength="94.8" lengthAdjust="spacingAndGlyphs">Actin/cytoskeleton</text><text x="242.4" y="392.0" font-size="11.73" font-weight="bold" fill="#111" stroke="#111" stroke-width="0.30" textLength="80.3" lengthAdjust="spacingAndGlyphs">rearrangements</text><text x="378.0" y="447.0" font-size="13.97" font-weight="bold" fill="#111" stroke="#111" stroke-width="0.65" textLength="16.5" lengthAdjust="spacingAndGlyphs">ER</text><text x="433.7" y="442.8" font-size="14.66" font-weight="bold" fill="#111" stroke="#111" stroke-width="0.65" textLength="52.6" lengthAdjust="spacingAndGlyphs">Nucleus</text><text x="667.5" y="426.0" font-size="13.97" font-weight="bold" fill="#111" stroke="#111" stroke-width="0.65" textLength="68.5" lengthAdjust="spacingAndGlyphs">Exocytosis</text><text x="137.5" y="526.2" font-size="15.08" font-weight="bold" fill="#111" stroke="#111" stroke-width="0.65" textLength="89.8" lengthAdjust="spacingAndGlyphs">Microvesicles</text><text x="432.0" y="516.0" font-size="14.53" font-weight="bold" fill="#111" stroke="#111" stroke-width="0.65" textLength="60.3" lengthAdjust="spacingAndGlyphs">CYTOSOL</text><text x="627.8" y="536.5" font-size="14.66" font-weight="bold" fill="#111" stroke="#111" stroke-width="0.65" textLength="66.0" lengthAdjust="spacingAndGlyphs">Exosomes</text><text x="405.3" y="559.4" font-size="13.41" font-weight="bold" fill="#111" stroke="#111" stroke-width="0.65" textLength="109.6" lengthAdjust="spacingAndGlyphs">EXTRACELLULAR</text><text x="440.0" y="578.4" font-size="14.53" font-weight="bold" fill="#111" stroke="#111" stroke-width="0.65" textLength="40.2" lengthAdjust="spacingAndGlyphs">SPACE</text><path d="M272.2,251.6 L272.2,235.5 M267.6,240 L272.2,233.8 L276.8,240" stroke="#111" stroke-width="1.5" fill="none"/><text x="297" y="246" font-size="9" font-weight="bold" fill="#111" textLength="11" lengthAdjust="spacingAndGlyphs">++</text></svg>
</body></html>
